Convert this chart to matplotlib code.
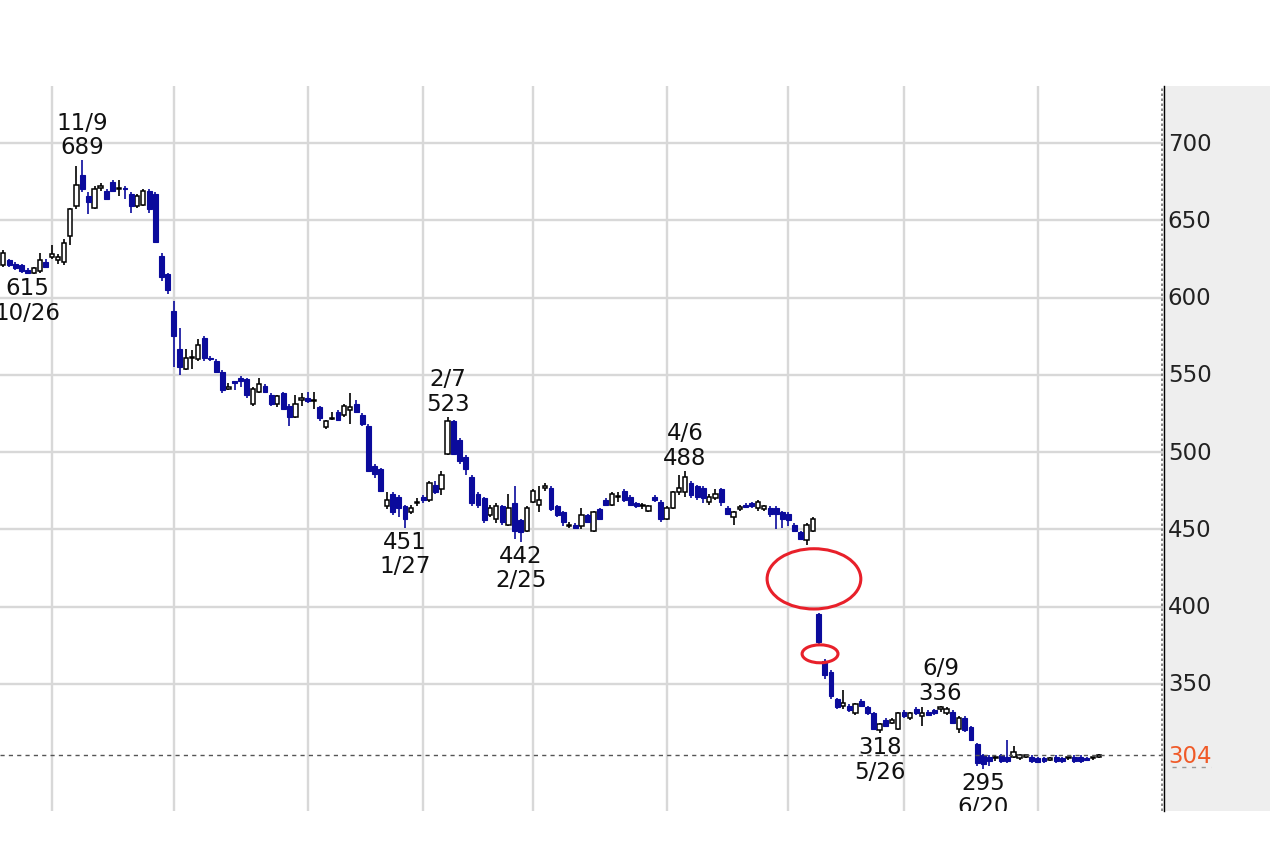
import matplotlib as mpl

mpl.use("Agg")
import matplotlib.pyplot as plt
import numpy as np
import pandas as pd
from matplotlib.lines import Line2D
from matplotlib.patches import Ellipse

# Tokyo exchange closed days inside the window
jp_holidays = [
    "2021-11-03", "2021-11-23", "2021-12-31", "2022-01-03", "2022-01-10",
    "2022-02-11", "2022-02-23", "2022-03-21", "2022-04-29",
    "2022-05-03", "2022-05-04", "2022-05-05",
]
dates = pd.bdate_range("2021-10-19", "2022-07-15", freq="C", holidays=jp_holidays)

# daily OHLC, one row per month (Oct part, Nov .. Jul part)
opens = [
    622, 621, 624, 622, 621, 618, 616, 617, 623,
    626, 624, 623, 640, 659, 679, 666, 658, 671, 669, 675, 670, 671, 667, 659, 660, 669, 667, 627, 615,
    591, 567, 554, 561, 560, 574, 560.5, 559, 552, 541, 545.5, 548, 547, 531, 539, 543, 537, 531, 538, 530, 523, 534,
    535, 533, 529, 516, 521.5, 526, 524, 527, 531, 524, 517, 491, 489, 465, 473, 471, 465, 461, 467,
    471, 469, 479, 476, 499, 520, 508, 497, 484, 473, 470, 459, 457, 465, 453, 467, 456, 449,
    468, 466, 477, 477, 465, 461, 452, 453, 452, 459, 449, 463, 469, 466, 471, 475, 471, 467, 465, 462, 471, 468,
    457, 464, 474, 474, 480, 478, 477, 468, 470, 476, 464, 458, 463.5, 466, 467, 464, 463, 464, 464, 461,
    460, 453, 448, 443, 449, 395, 365, 358, 340, 336, 336, 331, 339, 335, 331, 320, 327, 325, 321,
    332, 328, 334, 329, 332, 333, 334, 331, 332, 321, 328, 322, 311, 304, 303, 302, 304, 303, 303, 302, 303, 303,
    302, 302, 301, 303, 302, 302, 303, 303, 302, 302, 303,
]
highs = [
    629, 631, 625, 623, 622, 619, 620, 629, 625,
    634, 628, 638, 658, 685, 689, 668, 672, 674, 670, 676, 676, 672, 668, 667, 670, 670, 668, 629, 616,
    598, 580, 567, 566, 573, 575, 562, 560, 553, 545, 546, 549, 548, 542, 548, 544, 538, 537, 539, 531, 537, 538,
    539, 539, 530, 521, 526, 527, 531, 538, 534, 525, 518, 492, 490, 474, 474, 472, 466, 466, 470,
    472, 481, 481, 488, 523, 521, 509, 498, 485, 474, 471, 466, 467, 466, 473, 478, 457, 465,
    476, 478, 480, 478, 466, 462, 455, 454, 464, 460, 462, 464, 470, 474, 474, 476, 472, 468, 467, 466, 472, 469,
    465, 475, 485, 488, 481, 479, 478, 473, 476, 477, 465, 462, 466, 467, 468, 469, 466, 465, 465, 462,
    461, 454, 449, 454, 458, 396, 366, 359, 341, 346, 337, 338, 340, 336, 332, 325, 328, 328, 332,
    333, 332, 335, 335, 333, 334, 336, 335, 333, 329, 329, 323, 312, 305, 304, 304, 305, 314, 310, 305, 304, 304,
    302.5, 303, 302.5, 304, 303, 303, 304, 304, 303, 303, 305,
]
lows = [
    621, 620, 620, 618, 616, 615, 615.5, 616, 619,
    625, 622, 621, 634, 657, 668, 654, 657, 669, 663, 668, 666, 664, 655, 658, 659, 655, 635, 611, 602,
    555, 550, 553, 554, 559, 559, 559, 551, 538, 540, 540, 542, 535, 530, 538, 538, 530, 529, 527, 517, 522, 530,
    532, 528, 520, 515, 521, 520, 523, 518, 525, 517, 487, 483, 474, 463, 459, 458, 451, 460, 465,
    467, 468, 473, 472, 498, 498, 492, 485, 465, 464, 454, 458, 454, 453, 452, 444, 442, 448,
    467, 461, 475, 462, 458, 452, 451, 450, 450, 454, 448, 456, 465, 465, 468, 468, 465, 464, 463, 461, 468, 455,
    456, 463, 472, 471, 470, 469, 467, 466, 469, 465, 459, 453, 462, 464, 464, 462, 462, 458, 450, 451,
    452, 448, 443, 440, 448, 376, 353, 340, 334, 334, 332, 330, 335, 330, 320, 318, 322, 324, 320,
    328, 327, 330, 323, 329, 330, 332, 330, 324, 318, 319, 313, 297, 295, 297, 300, 299, 299, 302, 301, 302, 299,
    299, 299, 300, 299, 299, 301, 299, 299, 300, 301, 302,
]
closes = [
    628, 629, 621, 619, 617, 616, 619, 624, 620,
    628, 626, 635, 657, 673, 670, 662, 670, 672, 664, 669, 670.5, 670, 659, 666, 669, 657, 636, 613, 605,
    575, 555, 561, 561.5, 569, 561, 560, 552, 540, 542, 545, 546, 537, 541, 544, 539, 531, 536, 528, 523, 531, 534.5,
    533, 533.5, 522, 520, 522, 521, 530, 529, 526, 518, 488, 486, 475, 469, 461, 464, 457, 464, 467.5,
    469, 480, 474, 485, 520, 499, 494, 489, 467, 466, 456, 464, 465, 455, 464, 449, 448, 464,
    475, 469, 477.5, 463, 459, 455, 452.5, 451, 459, 455, 461, 457, 466, 473, 471.5, 469, 466, 465, 465.5, 465, 469, 457,
    464, 474, 477, 484, 472, 471, 470, 471, 473, 468, 460, 461, 464, 464.5, 465, 468, 465, 460, 460, 457,
    456, 449, 444, 453, 457, 377, 356, 342, 335, 338, 333, 337, 336, 331, 321, 324, 323, 327, 331,
    329, 331, 331, 331, 330, 331, 334.5, 334, 325, 328, 320, 314, 299, 298, 300, 302.5, 300, 300, 306, 304, 303, 300,
    299.5, 300, 301, 300, 300, 302, 300, 300, 301, 302, 304,
]

# marked swing highs / lows
peak_days = ["2021-11-09", "2022-02-07", "2022-04-06", "2022-06-09"]
trough_days = ["2021-10-26", "2022-01-27", "2022-02-25", "2022-05-26", "2022-06-20"]

# red circles drawn over the May gap (index, price, width, height)
gap_marks = [(134.2, 418, 15.4, 39), (135.2, 369.5, 5.9, 11.6)]

y_ticks = [350, 400, 450, 500, 550, 600, 650, 700]

BLUE = "#0b0b9c"
GRID = "#d8d8d8"
FS = 16.5

o = np.array(opens, dtype=float)
h = np.array(highs, dtype=float)
lo = np.array(lows, dtype=float)
c = np.array(closes, dtype=float)
x = np.arange(len(dates))
up = c >= o

W, H = 1280, 862
fig = plt.figure(figsize=(W / 100, H / 100), dpi=100)
ax = fig.add_axes([0, 50 / H, 1163 / W, 725 / H])
ax.set_xlim(0.46, 191.55)
ax.set_ylim(267.8, 736.9)
for s in ax.spines.values():
    s.set_visible(False)
ax.set_xticks([])
ax.set_yticks([])

# grid: price levels and first trading day of each month
for v in y_ticks:
    ax.axhline(v, color=GRID, lw=1.7, zorder=0)
month = dates.month
first_days = [i for i in range(1, len(dates)) if month[i] != month[i - 1]]
for i in first_days:
    ax.axvline(i, color=GRID, lw=1.7, zorder=0)

# candles
ax.vlines(x[up], lo[up], h[up], color="black", lw=1.2, zorder=2)
ax.vlines(x[~up], lo[~up], h[~up], color=BLUE, lw=1.2, zorder=2)
body = np.maximum(np.abs(c - o), 0.8)
bottom = np.minimum(o, c)
ax.bar(x[up], body[up], bottom=bottom[up], width=0.72, facecolor="white",
       edgecolor="black", linewidth=1.1, zorder=3)
ax.bar(x[~up], body[~up], bottom=bottom[~up], width=0.8, facecolor=BLUE,
       edgecolor=BLUE, linewidth=0.8, zorder=3)

# last price line
ax.axhline(c[-1], color="#555555", lw=1.0, ls=(0, (3, 3)), zorder=4)

# swing labels
pos = {d.strftime("%Y-%m-%d"): i for i, d in enumerate(dates)}
for d in peak_days:
    i = pos[d]
    txt = f"{dates[i].month}/{dates[i].day}\n{h[i]:.0f}"
    ax.annotate(txt, (i, h[i]), xytext=(0, 1.5), textcoords="offset points",
                ha="center", va="bottom", fontsize=FS, linespacing=1.08,
                color="#111111", clip_on=True, zorder=5)
for d in trough_days:
    i = pos[d]
    txt = f"{lo[i]:.0f}\n{dates[i].month}/{dates[i].day}"
    ax.annotate(txt, (i, lo[i]), xytext=(0, -1.5), textcoords="offset points",
                ha="center", va="top", fontsize=FS, linespacing=1.08,
                color="#111111", clip_on=True, zorder=5)

for cx, cy, ew, eh in gap_marks:
    ax.add_patch(Ellipse((cx, cy), ew, eh, fill=False, edgecolor="#e8202a",
                         lw=2.2, zorder=6))

# right price panel
ax2 = fig.add_axes([1163 / W, 50 / H, 107 / W, 725 / H], facecolor="#eeeeee")
ax2.set_ylim(ax.get_ylim())
ax2.set_xlim(0, 1)
ax2.set_xticks([])
ax2.set_yticks([])
for s in ax2.spines.values():
    s.set_visible(False)
for v in y_ticks:
    ax2.text(0.045, v, str(v), ha="left", va="center", fontsize=FS, color="#222222")
ax2.text(0.045, c[-1], f"{c[-1]:.0f}", ha="left", va="center", fontsize=FS,
         color="#f05a28")
ax2.plot([0.08, 0.45], [c[-1] - 7.5] * 2, color="#999999", lw=1.0, ls=(0, (3, 4)))

# axis border: dotted grey plus solid black
fig.add_artist(Line2D([1161.5 / W] * 2, [50 / H, 775 / H], color="#777777",
                      lw=1.2, ls=(0, (1.5, 1.5))))
fig.add_artist(Line2D([1163.5 / W] * 2, [50 / H, 775 / H], color="black", lw=1.0))

fig.savefig("out.png", dpi=100)
plt.close(fig)
